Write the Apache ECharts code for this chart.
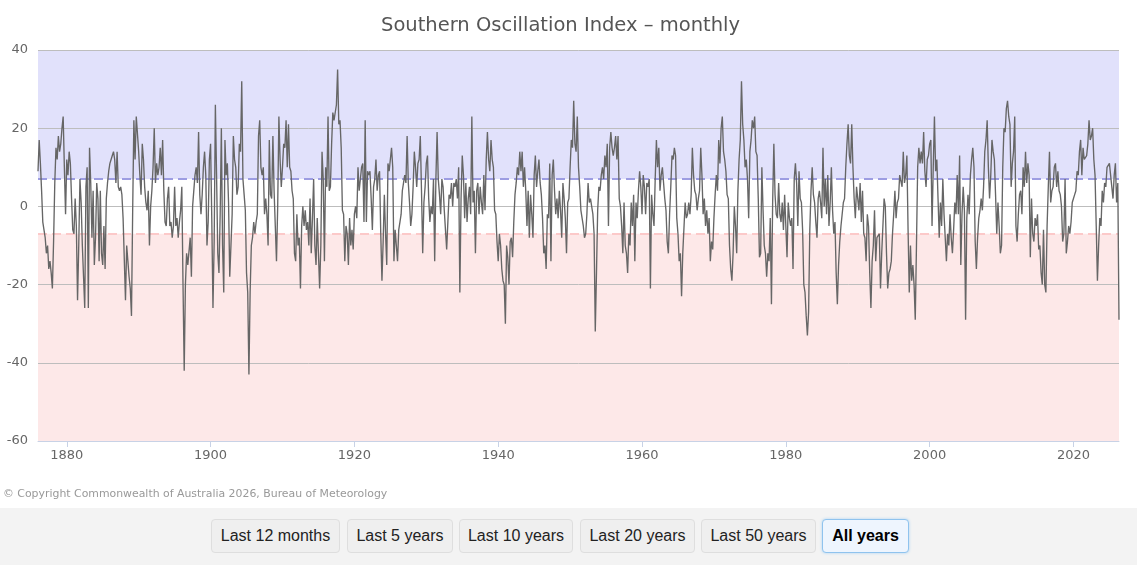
<!DOCTYPE html>
<html>
<head>
<meta charset="utf-8">
<script src="https://cdn.jsdelivr.net/npm/echarts@6/dist/echarts.min.js"></script>
<style>
  html, body { margin: 0; padding: 0; background: #fff; width: 1137px; height: 565px; overflow: hidden; }
  #chart { position: absolute; left: 0; top: 0; width: 1137px; height: 508px; }
  #bar { position: absolute; left: 0; top: 508px; width: 1137px; height: 57px; background: #f3f3f3; }
  .btn { position: absolute; top: 11px; height: 34px; box-sizing: border-box; border: 1px solid #dedede;
         border-radius: 4px; background: #efefef; font-family: "Liberation Sans", Arial, sans-serif;
         font-size: 16px; color: #222; line-height: 32px; text-align: center; }
  .btn.active { background: #eef5fe; border: 1px solid #8fc3ee; box-shadow: 0 0 3px #a9d2f3; font-weight: bold; color: #000; }
</style>
</head>
<body>
<div id="chart"></div>
<div id="bar"></div>
<script>
// ---- data, one value every 2 months from Jan 1876 ----
const startYear = 1876;
const stepMonths = 2;
const soi = [
  9, 17, 11, 4, -4, -6,        // 1876
  -8, -12, -10, -16, -14, -17, // 1877
  -21, -9, 6, 15, 12, 18,      // 1878
  14, 16, 20, 23, 10, -2,      // 1879
  12, 8, 14, 11, 2, -6,        // 1880
  -7, 2, -5, -24, -10, 7,      // 1881
  1, -10, -18, -26, 5, 10,     // 1882
  -26, 15, 6, -8, 4, -15,      // 1883
  -8, 6, 2, -14, 4, -12,       // 1884
  -15, -5, -16, 2, 6, 9,       // 1885
  11, 12, 13, 14, 12, 6,       // 1886
  14, 5, 4, 5, 3, -3,          // 1887
  -3, -24, -10, -14, -18, -21, // 1888
  -28, -1, 22, 12, 23, 23,     // 1889
  14, 8, 3, 16, 12, 5,         // 1890
  1, -1, 4, -10, 0, 4,         // 1891
  10, 20, 6, 11, 8, 10,        // 1892
  15, 8, 17, 4, -4, -5,        // 1893
  2, 5, -5, -4, -8, -5,        // 1894
  5, -5, -3, -8, -4, -1,       // 1895
  5, -20, -42, -20, -12, -15,  // 1896
  -15, -8, -18, 0, 0, 8,       // 1897
  10, 6, 19, 3, -2, 3,         // 1898
  10, 14, 8, -10, -4, 12,      // 1899
  16, -3, -26, -9, 26, 8,      // 1900
  -12, -17, -2, 20, -10, -22,  // 1901
  17, 8, 11, 1, -18, -10,      // 1902
  -2, 18, 12, 10, 3, 5,        // 1903
  16, 14, 32, 7, 3, -1,        // 1904
  -17, -22, -43, -22, -10, -8, // 1905
  -4, -7, -4, -2, 18, 22,      // 1906
  10, 8, 10, -2, 2, -2,        // 1907
  -10, 17, 3, 2, 18, 4,        // 1908
  -5, -14, 0, 23, 12, 5,       // 1909
  10, 16, 15, 22, 10, 21,      // 1910
  10, 9, 4, 2, -12, -14,       // 1911
  -2, -10, -8, -21, -5, 0,     // 1912
  -5, -1, -6, -4, -10, 2,      // 1913
  -12, -3, 7, -10, -15, -3,    // 1914
  -12, -21, -10, 14, 7, -14,   // 1915
  10, 5, 23, 4, 5, 16,         // 1916
  24, 22, 22, 26, 35, 21,      // 1917
  22, 15, -1, -2, -14, -5,     // 1918
  -7, -15, -3, -10, -6, -11,   // 1919
  -2, 0, -3, 10, 4, 7,         // 1920
  10, 11, -4, 22, -4, 9,       // 1921
  8, 9, 2, -6, 5, 7,           // 1922
  12, 4, 8, 9, -7, -19,        // 1923
  -9, 3, -7, -15, 11, 9,       // 1924
  9, 15, 10, -14, -6, -10,     // 1925
  -14, -6, -4, -2, 4, 6,       // 1926
  8, 6, 18, 6, 1, -5,          // 1927
  -2, 5, 14, 10, 5, 11,        // 1928
  12, 18, 4, -12, 1, 5,        // 1929
  11, 13, 2, -4, 0, -2,        // 1930
  7, -14, 7, 19, 7, 3,         // 1931
  -2, 7, 5, -1, -6, -11,       // 1932
  -4, 3, 2, 6, 0, 6,           // 1933
  5, 7, 2, 10, -22, 2,         // 1934
  13, 8, -3, 6, -4, 2,         // 1935
  5, -2, 23, 1, 4, -12,        // 1936
  4, 6, -2, 5, 1, -2,          // 1937
  8, -1, 12, 19, 12, 9,        // 1938
  17, 12, 10, -1, -2, -9,      // 1939
  -14, -7, -10, -16, -19, -20, // 1940
  -30, -10, -13, -20, -9, -8,  // 1941
  -13, -4, 3, 6, 10, 8,        // 1942
  14, 9, 14, 5, 10, 4,         // 1943
  -5, 4, -8, 3, -2, -8,        // 1944
  8, 13, 5, 9, 12, 6,          // 1945
  3, -3, -12, -10, -16, -2,    // 1946
  -3, 11, -14, 8, 12, 4,       // 1947
  -2, 2, -3, 4, -1, -8,        // 1948
  6, 2, -3, -12, 1, 2,         // 1949
  10, 17, 15, 27, 16, 14,      // 1950
  23, 10, 5, -1, -3, -5,       // 1951
  -8, -7, -2, 6, 1, 2,         // 1952
  2, -2, -7, -32, -17, -1,     // 1953
  5, 4, 8, 10, 7, 13,          // 1954
  10, 16, -5, 15, 19, 15,      // 1955
  13, 15, 18, 12, 18, 2,       // 1956
  0, -5, -12, 1, -10, -12,     // 1957
  -17, -7, -10, 1, -5, 3,      // 1958
  -14, 1, -3, 4, 9, 5,         // 1959
  -2, 8, 5, -2, 6, 5,          // 1960
  7, -21, 3, -2, -5, 7,        // 1961
  17, 10, 15, 4, 8, 10,        // 1962
  6, 2, -1, -9, -12, -2,       // 1963
  5, 13, 12, 15, 13, -3,       // 1964
  -7, -14, -12, -23, -12, -12, // 1965
  1, -3, -2, 1, -2, 3,         // 1966
  15, 8, 4, 3, -1, 2,          // 1967
  4, 15, 8, -2, 2, -5,         // 1968
  -1, -7, -3, -14, -9, -11,    // 1969
  -3, 3, 8, 4, 17, 11,         // 1970
  20, 23, 14, 12, 9, 3,        // 1971
  2, -10, -16, -19, -12, 0,    // 1972
  -5, -12, 4, 12, 17, 32,      // 1973
  21, 17, 10, 12, 7, -3,       // 1974
  14, 17, 22, 20, 23, 14,      // 1975
  13, 2, -13, -12, 10, -1,     // 1976
  -10, -12, -18, -12, -14, -3, // 1977
  -25, 1, 16, 3, -2, -3,       // 1978
  6, -2, -4, 1, -6, 3,         // 1979
  3, -13, 1, -3, -5, -3,       // 1980
  -16, 7, 11, 6, -5, 9,        // 1981
  2, 1, -6, -20, -22, -28,     // 1982
  -33, -27, -6, 4, 10, 3,      // 1983
  1, -4, -8, 2, 4, 1,          // 1984
  -3, 15, 0, 7, -2, 8,         // 1985
  -5, 1, 10, -1, -7, -4,       // 1986
  -17, -25, -15, -9, -5, -2,   // 1987
  1, 2, 10, 16, 21, 13,        // 1988
  11, 21, 10, 2, -3, 5,        // 1989
  2, -1, 6, -4, 4, -7,         // 1990
  -8, -14, -2, -5, -17, -26,   // 1991
  -14, -10, -1, -14, -8, -8,   // 1992
  -7, -21, -12, -12, 2, 0,     // 1993
  -12, -21, -17, -16, -14, -7, // 1994
  -2, 4, -3, 1, 2, 8,          // 1995
  8, 5, 14, 6, 8, 13,          // 1996
  -6, -22, -10, -19, -15, -20, // 1997
  -29, -10, 10, 15, 11, 14,    // 1998
  11, 19, 9, 5, 12, 13,        // 1999
  16, 17, -5, 10, 23, 9,       // 2000
  12, 2, -8, 1, -5, 7,         // 2001
  -2, -8, -14, -7, -10, -2,    // 2002
  -8, -12, -6, 1, -2, 8,       // 2003
  -2, 13, -15, -2, 5, -1,      // 2004
  -29, -3, 3, -2, 8, 12,       // 2005
  15, 10, -9, -16, -8, -3,     // 2006
  -1, 2, -1, 5, 14, 17,        // 2007
  22, 10, 2, 8, 17, 14,        // 2008
  12, 3, -7, 1, -5, -12,       // 2009
  -10, 10, 20, 19, 25, 27,     // 2010
  23, 21, 5, 11, 14, 23,       // 2011
  -5, -9, -2, 3, 4, -2,        // 2012
  10, 5, 14, 6, 11, 8,         // 2013
  -13, 2, -7, -9, -3, -5,      // 2014
  -2, -11, -10, -17, -20, -6,  // 2015
  -20, -22, -5, 5, 14, 1,      // 2016
  4, 5, 10, 11, 5, 9,          // 2017
  4, 3, 0, -9, -7, 7,          // 2018
  -12, -9, -5, -7, -4, 1,      // 2019
  1, 3, 4, 9, 8, 14,           // 2020
  17, 8, 15, 12, 12, 13,       // 2021
  16, 22, 17, 18, 20, 12,      // 2022
  8, -5, -19, -10, -3, -5,     // 2023
  4, 1, 6, 5, 10, 10,          // 2024
  11, 8, 5, 2, 8, 11,          // 2025
  1, 6, -29                    // 2026
];
const yearTicks = [1880, 1900, 1920, 1940, 1960, 1980, 2000, 2020];
const yMin = -60, yMax = 40, yStep = 20;
const upperThreshold = 7;
const lowerThreshold = -7;
const titleText = 'Southern Oscillation Index \u2013 monthly';
const creditText = '\u00A9 Copyright Commonwealth of Australia 2026, Bureau of Meteorology';
const buttonLabels = ['Last 12 months', 'Last 5 years', 'Last 10 years', 'Last 20 years', 'Last 50 years', 'All years'];

// ---- build ----
const seriesData = soi.map((v, i) => [startYear + i * stepMonths / 12, v]);
const xMax = startYear + (soi.length - 1) * stepMonths / 12;
const FONT = '"DejaVu Sans", Verdana, sans-serif';

const chart = echarts.init(document.getElementById('chart'), null, { renderer: 'canvas' });
chart.setOption({
  animation: false,
  backgroundColor: '#ffffff',
  title: {
    text: titleText, left: 381, top: 16, padding: 0,
    textStyle: { fontFamily: FONT, fontSize: 19.5, fontWeight: 'normal', color: '#555555' }
  },
  grid: { left: 38, right: 18, top: 50, bottom: 67, containLabel: false },
  xAxis: {
    type: 'value', min: startYear, max: xMax, z: 5,
    axisLine: { show: true, onZero: false, lineStyle: { color: '#c8d2e6', width: 1 } },
    axisTick: { show: true, length: 6, lineStyle: { color: '#c8d2e6' }, customValues: yearTicks },
    axisLabel: { customValues: yearTicks, color: '#666666', fontSize: 13, fontFamily: FONT, margin: 8,
                 formatter: v => String(Math.round(v)) },
    splitLine: { show: false }
  },
  yAxis: {
    type: 'value', min: yMin, max: yMax, interval: yStep, z: 5,
    axisLine: { show: false }, axisTick: { show: false },
    axisLabel: { color: '#666666', fontSize: 13, fontFamily: FONT, margin: 10 },
    splitLine: { show: true, lineStyle: { color: '#bdbdbd', width: 1 } }
  },
  graphic: [{
    type: 'text', left: 3, top: 489,
    style: { text: creditText, fill: '#999999', font: '10.9px "DejaVu Sans", Verdana, sans-serif' }
  }],
  series: [
    {
      name: 'bands', type: 'line', data: [], z: 1, silent: true,
      markArea: {
        silent: true,
        data: [
          [{ yAxis: upperThreshold, itemStyle: { color: '#e1e1fb' } }, { yAxis: yMax }],
          [{ yAxis: yMin, itemStyle: { color: '#fde8e8' } }, { yAxis: lowerThreshold }]
        ]
      }
    },
    {
      name: 'SOI', type: 'line', data: seriesData, showSymbol: false, z: 8,
      lineStyle: { color: '#666666', width: 1.35 },
      markLine: {
        silent: true, symbol: 'none', label: { show: false },
        data: [
          { yAxis: upperThreshold, lineStyle: { color: '#9d9de2', width: 2, type: [9, 5] } },
          { yAxis: lowerThreshold, lineStyle: { color: '#fcc9c9', width: 2, type: [9, 5] } }
        ]
      }
    }
  ]
});

// ---- range buttons ----
const btnLeft = [211, 347, 459, 580, 701, 822];
const btnWidth = [129, 106, 114, 115, 115, 87];
const bar = document.getElementById('bar');
buttonLabels.forEach((t, i) => {
  const b = document.createElement('div');
  b.className = 'btn' + (i === buttonLabels.length - 1 ? ' active' : '');
  b.style.left = btnLeft[i] + 'px';
  b.style.width = btnWidth[i] + 'px';
  b.textContent = t;
  bar.appendChild(b);
});
</script>
</body>
</html>
